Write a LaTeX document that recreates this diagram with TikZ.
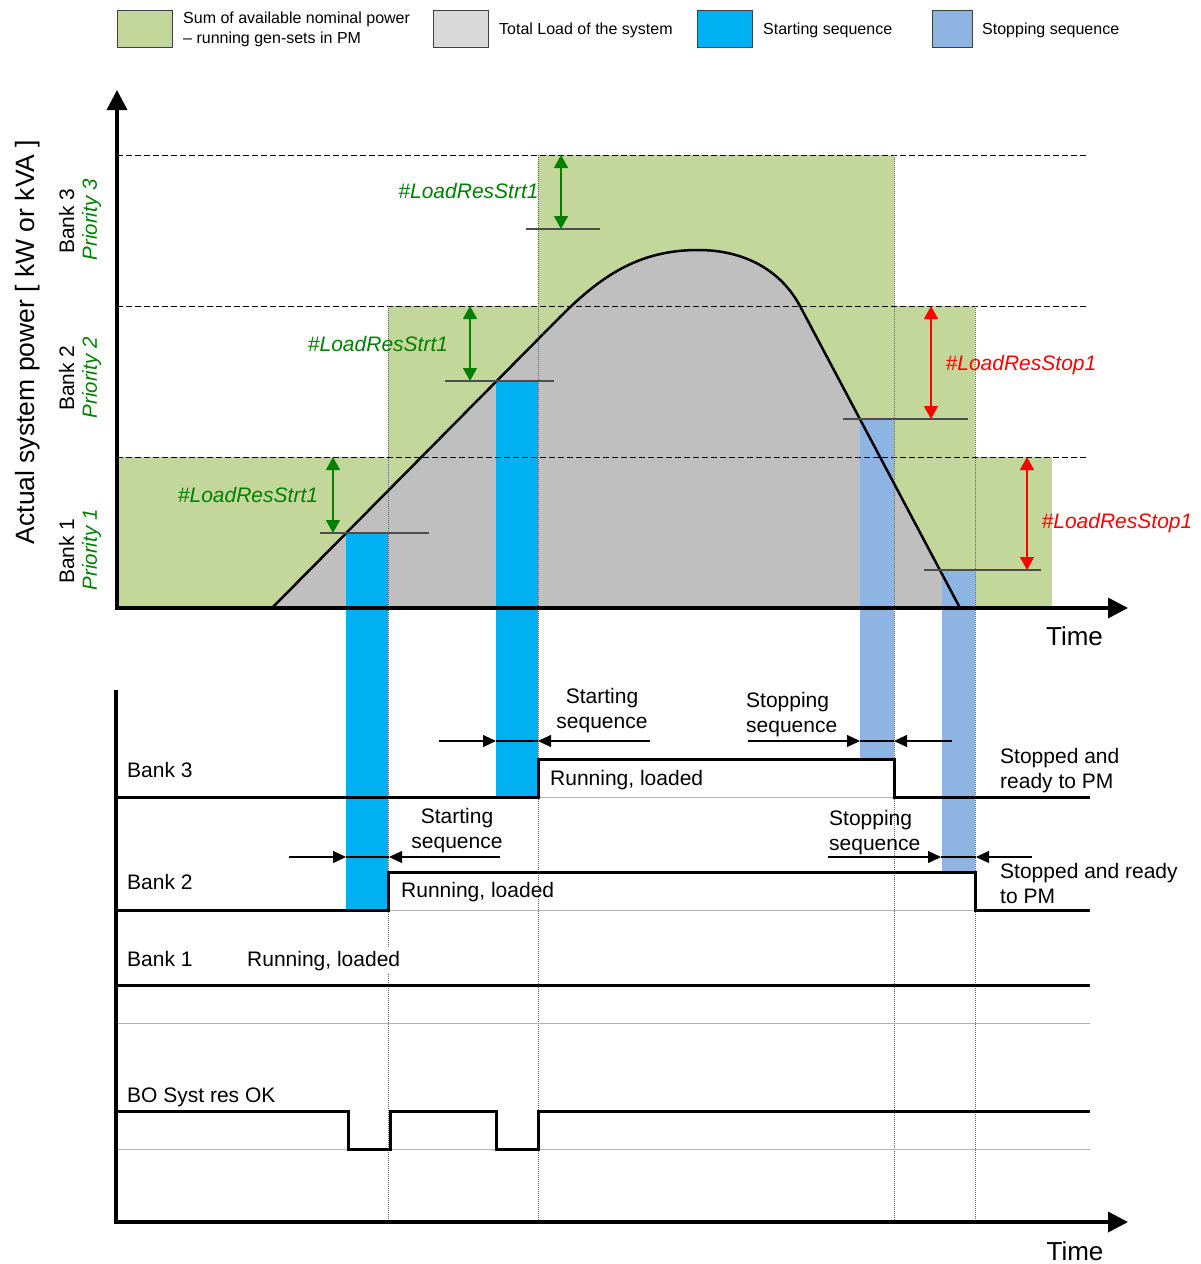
\documentclass[tikz,border=0pt]{standalone}
\usepackage{fontspec}
\setmainfont{Liberation Sans}
\usetikzlibrary{arrows.meta}

\definecolor{availgreen}{RGB}{196,215,155}
\definecolor{loadgray}{RGB}{191,191,191}
\definecolor{keygray}{RGB}{217,217,217}
\definecolor{startblue}{RGB}{0,176,240}
\definecolor{stopblue}{RGB}{141,180,226}
\definecolor{resgreen}{RGB}{0,128,0}
\definecolor{resred}{RGB}{255,0,0}
\definecolor{keyedge}{RGB}{64,64,64}

\newcommand\setfs[2]{\fontsize{#1}{#2}\selectfont}

\begin{document}
\begin{tikzpicture}[x=1pt,y=-1pt,
  keybox/.style={draw=keyedge, line width=1pt, minimum height=37pt, inner sep=0pt},
  keytext/.style={font=\setfs{16}{20}, inner sep=0pt, anchor=west, align=left},
  lbl/.style={font=\setfs{21}{25}, inner sep=0pt},
  reslbl/.style={font=\setfs{21}{25}\itshape, inner sep=0pt, anchor=base},
  banklbl/.style={font=\setfs{21}{25}, inner sep=0pt, rotate=90},
  priolbl/.style={font=\setfs{20.5}{25}\itshape, text=resgreen, inner sep=0pt, rotate=90},
  timelbl/.style={font=\setfs{26}{30}, inner sep=0pt, anchor=base},
  axisline/.style={line width=3.5pt, line join=miter},
  bandline/.style={line width=1pt, dash pattern=on 6pt off 3pt},
  eventline/.style={line width=1pt, dash pattern=on 1pt off 1pt, black!60},
  loadline/.style={line width=2.5pt, line join=round},
  threshold/.style={line width=1.5pt, black!70},
  reserve/.style={line width=1.3pt, {Triangle[length=13pt,width=14pt]}-{Triangle[length=13pt,width=14pt]}},
  wave/.style={line width=3pt, line join=miter},
  lowref/.style={line width=1pt, black!30},
  seqarrow/.style={line width=1.1pt, -{Triangle[length=13pt,width=12pt]}},
  seqbar/.style={line width=1.1pt},
]
\useasboundingbox (0,0) rectangle (1200,1264);

% ---------- key ----------
\node[keybox, fill=availgreen, minimum width=55pt] (keyavail) at (144.5,28.5) {};
\node[keytext] (keyavailtxt) at (183,29) {Sum of available nominal power\\– running gen-sets in PM};
\node[keybox, fill=keygray, minimum width=55pt] (keyload) at (460.5,28.5) {};
\node[keytext] (keyloadtxt) at (499,30) {Total Load of the system};
\node[keybox, fill=startblue, minimum width=55pt] (keystart) at (724.5,28.5) {};
\node[keytext] (keystarttxt) at (763,30) {Starting sequence};
\node[keybox, fill=stopblue, minimum width=40pt] (keystop) at (952,28.5) {};
\node[keytext] (keystoptxt) at (982,30) {Stopping sequence};

% ---------- power chart: available power per bank ----------
\fill[availgreen] (117,457) rectangle (1052,608);
\fill[availgreen] (388,306) rectangle (975,608);
\fill[availgreen] (538,155) rectangle (894,608);

% total load
\fill[loadgray] (272,608) -- (560,317) .. controls (600,277) and (638,250) .. (698,250)
  .. controls (743,250) and (780,269) .. (800,306) -- (960,608) -- cycle;

% starting / stopping sequences
\fill[startblue] (346,533) rectangle (388,910);
\fill[startblue] (496,381) rectangle (538,797);
\fill[stopblue] (860,419) rectangle (894,759);
\fill[stopblue] (942,570) rectangle (975,872);

% bank power levels
\draw[bandline] (117,457) -- (1088,457);
\draw[bandline] (117,306) -- (1088,306);
\draw[bandline] (117,155) -- (1088,155);

% switching instants
\draw[eventline] (388,306) -- (388,1222);
\draw[eventline] (538,155) -- (538,1222);
\draw[eventline] (894,155) -- (894,1222);
\draw[eventline] (975,306) -- (975,1222);

% load curve
\draw[loadline] (272,608) -- (560,317) .. controls (600,277) and (638,250) .. (698,250)
  .. controls (743,250) and (780,269) .. (800,306) -- (960,608);

% start / stop thresholds
\draw[threshold] (320,533) -- (429,533);
\draw[threshold] (445,381) -- (554,381);
\draw[threshold] (526,229) -- (600,229);
\draw[threshold] (843,419) -- (968,419);
\draw[threshold] (924,570) -- (1041,570);

% load reserves
\coordinate (r1a) at (333,457); \coordinate (r1b) at (333,533);
\coordinate (r2a) at (470,306); \coordinate (r2b) at (470,381);
\coordinate (r3a) at (561,155); \coordinate (r3b) at (561,229);
\coordinate (s2a) at (931,306); \coordinate (s2b) at (931,419);
\coordinate (s1a) at (1027,457); \coordinate (s1b) at (1027,570);
\draw[reserve, resgreen] (r1a) -- (r1b);
\draw[reserve, resgreen] (r2a) -- (r2b);
\draw[reserve, resgreen] (r3a) -- (r3b);
\draw[reserve, resred] (s2a) -- (s2b);
\draw[reserve, resred] (s1a) -- (s1b);

\node[reslbl, text=resgreen] (res1) at (248,502) {\#LoadResStrt1};
\node[reslbl, text=resgreen] (res2) at (378,351) {\#LoadResStrt1};
\node[reslbl, text=resgreen] (res3) at (468.5,198) {\#LoadResStrt1};
\node[reslbl, text=resred] (stop2) at (1021,370) {\#LoadResStop1};
\node[reslbl, text=resred] (stop1) at (1117,528) {\#LoadResStop1};

% axes of the power chart
\draw[axisline, {Triangle[length=20pt,width=20pt]}-{Triangle[length=20pt,width=20pt]}]
  (117,90) -- (117,608) -- (1128,608);
\node[timelbl] (time1) at (1074.5,645) {Time};

\node[font=\setfs{26.5}{30}, inner sep=0pt, rotate=90] (yaxis) at (27.5,342) {Actual system power [ kW or kVA ]};
\node[banklbl] (b3v) at (66.5,221) {Bank 3};
\node[priolbl] (p3v) at (91.5,220) {Priority 3};
\node[banklbl] (b2v) at (66.5,378) {Bank 2};
\node[priolbl] (p2v) at (91.5,378) {Priority 2};
\node[banklbl] (b1v) at (66.5,551) {Bank 1};
\node[priolbl] (p1v) at (91.5,550) {Priority 1};

% ---------- timing chart ----------
\draw[lowref] (538,797) -- (894,797);
\draw[lowref] (388,910) -- (975,910);
\draw[lowref] (117,1023) -- (1090,1023);
\draw[lowref] (117,1149) -- (1090,1149);

\draw[wave] (117,797) -- (538,797) -- (538,759) -- (894,759) -- (894,797) -- (1090,797);
\draw[wave] (117,910) -- (388,910) -- (388,872) -- (975,872) -- (975,910) -- (1090,910);
\draw[wave] (117,985) -- (1090,985);
\draw[wave] (117,1111) -- (348,1111) -- (348,1149) -- (390,1149) -- (390,1111) -- (496,1111)
  -- (496,1149) -- (538,1149) -- (538,1111) -- (1090,1111);

\draw[axisline, -{Triangle[length=20pt,width=20pt]}] (116,690) -- (116,1222) -- (1128,1222);
\node[timelbl] (time2) at (1075,1260) {Time};

% sequence durations
\coordinate (a3l) at (439,741); \coordinate (a3s) at (496,741);
\coordinate (a3e) at (538,741); \coordinate (a3r) at (650,741);
\draw[seqarrow] (a3l) -- (a3s);
\draw[seqarrow] (a3r) -- (a3e);
\draw[seqbar] (a3s) -- (a3e);

\coordinate (o3l) at (748,741); \coordinate (o3s) at (860,741);
\coordinate (o3e) at (894,741); \coordinate (o3r) at (952,741);
\draw[seqarrow] (o3l) -- (o3s);
\draw[seqarrow] (o3r) -- (o3e);
\draw[seqbar] (o3s) -- (o3e);

\coordinate (a2l) at (289,857); \coordinate (a2s) at (346,857);
\coordinate (a2e) at (389,857); \coordinate (a2r) at (500,857);
\draw[seqarrow] (a2l) -- (a2s);
\draw[seqarrow] (a2r) -- (a2e);
\draw[seqbar] (a2s) -- (a2e);

\coordinate (o2l) at (828,857); \coordinate (o2s) at (941,857);
\coordinate (o2e) at (976,857); \coordinate (o2r) at (1032,857);
\draw[seqarrow] (o2l) -- (o2s);
\draw[seqarrow] (o2r) -- (o2e);
\draw[seqbar] (o2s) -- (o2e);

% timing labels
\node[lbl, anchor=base west] (bank3) at (127,777) {Bank 3};
\node[lbl, anchor=base west] (bank2) at (127,889) {Bank 2};
\node[lbl, anchor=base west] (bank1) at (127,966) {Bank 1};
\node[lbl, anchor=base west, fill=white, inner ysep=4pt] (run1) at (247,966) {Running, loaded};
\node[lbl, anchor=base west] (bosys) at (127,1102) {BO Syst res OK};
\node[lbl, anchor=base west] (run3) at (550,785) {Running, loaded};
\node[lbl, anchor=base west] (run2) at (401,897) {Running, loaded};

\node[lbl, align=center] (start3) at (602,711) {Starting\\sequence};
\node[lbl, align=left, anchor=west] (stop3) at (746,715) {Stopping\\sequence};
\node[lbl, align=center] (start2) at (457,831) {Starting\\sequence};
\node[lbl, align=left, anchor=west] (stopseq2) at (829,833) {Stopping\\sequence};
\node[lbl, align=left, anchor=west] (ready3) at (1000,771) {Stopped and\\ready to PM};
\node[lbl, align=left, anchor=west] (ready2) at (1000,883) {Stopped and ready\\to PM};

\end{tikzpicture}
\end{document}
